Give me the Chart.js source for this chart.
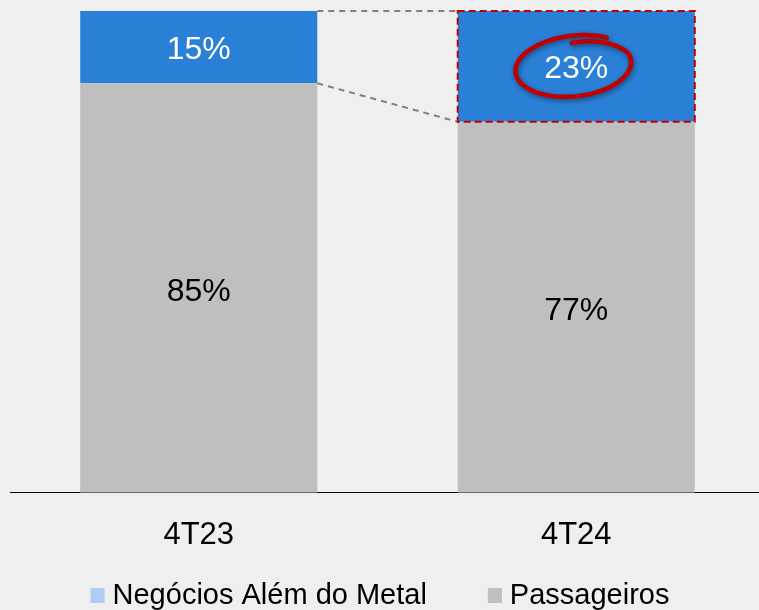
<!DOCTYPE html>
<html>
<head>
<meta charset="utf-8">
<script src="https://cdn.jsdelivr.net/npm/chart.js@4"></script>
<style>
  html, body { margin: 0; padding: 0; background: #efefef; overflow: hidden; }
  #wrap { position: relative; width: 759px; height: 610px; overflow: hidden; }
  #chart { position: absolute; left: 0; top: 0; }
</style>
</head>
<body>
<div id="wrap"><canvas id="chart" width="780" height="610"></canvas></div>
<script>
// -------------------------------
// Data
// -------------------------------
const categories = ["4T23", "4T24"];
const passageiros = [85, 77];
const negocios = [15, 23];
const seriesNames = ["Passageiros", "Negócios Além do Metal"];

const FONT = "'Liberation Sans', Arial, sans-serif";
const BLUE = "#2a7fd6";
const GRAY = "#bfbfbf";

// -------------------------------
// Plugins
// -------------------------------
const annotations = {
  id: "annotations",
  afterDatasetsDraw(chart) {
    const ctx = chart.ctx;
    const gray = chart.getDatasetMeta(0).data;
    const blue = chart.getDatasetMeta(1).data;

    // connector lines
    ctx.save();
    ctx.strokeStyle = "#808080";
    ctx.lineWidth = 2;
    ctx.setLineDash([6, 5]);
    const r0 = blue[0].x + blue[0].width / 2;
    const l1 = blue[1].x - blue[1].width / 2;
    ctx.beginPath();
    ctx.moveTo(r0, blue[0].y);
    ctx.lineTo(l1, blue[1].y);
    ctx.moveTo(r0, blue[0].base);
    ctx.lineTo(l1, blue[1].base);
    ctx.stroke();

    // red dashed box around highlighted segment
    ctx.strokeStyle = "#c00000";
    ctx.setLineDash([7, 4]);
    ctx.strokeRect(l1, blue[1].y, blue[1].width, blue[1].base - blue[1].y);
    ctx.restore();

    // value labels
    ctx.save();
    ctx.font = "32px " + FONT;
    ctx.textAlign = "center";
    ctx.textBaseline = "middle";
    gray.forEach((bar, i) => {
      ctx.fillStyle = "#000";
      ctx.fillText(passageiros[i] + "%", bar.x, (bar.y + bar.base) / 2 + 4);
    });
    blue.forEach((bar, i) => {
      ctx.fillStyle = "#fff";
      ctx.fillText(negocios[i] + "%", bar.x, (bar.y + bar.base) / 2 + 3);
    });
    ctx.restore();

    // hand drawn loop around 23%
    const cx = blue[1].x - 3;
    const cy = (blue[1].y + blue[1].base) / 2;
    const rx = 58, ry = 30, rot = -0.1;
    const t0 = -1.55, t1 = 2 * Math.PI - 0.9;
    ctx.save();
    ctx.strokeStyle = "#c00000";
    ctx.lineWidth = 4.5;
    ctx.lineCap = "round";
    ctx.lineJoin = "round";
    ctx.shadowColor = "rgba(0,0,0,0.45)";
    ctx.shadowBlur = 5;
    ctx.shadowOffsetX = 1;
    ctx.shadowOffsetY = 2;
    ctx.beginPath();
    for (let t = t0; t <= t1; t += 0.05) {
      let s = Math.min(1, 0.78 + (t - t0) / 1.3 * 0.22);
      if (t > t1 - 1.2) s += (t - (t1 - 1.2)) / 1.2 * 0.05;
      const ex = Math.cos(t) * rx * s, ey = Math.sin(t) * ry * s;
      const px = cx + ex * Math.cos(rot) - ey * Math.sin(rot);
      const py = cy + ex * Math.sin(rot) + ey * Math.cos(rot);
      if (t === t0) ctx.moveTo(px, py); else ctx.lineTo(px, py);
    }
    ctx.stroke();
    ctx.restore();
  },
  afterDraw(chart) {
    // legend
    const ctx = chart.ctx;
    const items = [
      { text: seriesNames[1], color: "#aecbf5" },
      { text: seriesNames[0], color: GRAY }
    ];
    ctx.save();
    ctx.font = "29px " + FONT;
    ctx.textBaseline = "middle";
    const box = 14, gap = 8, itemGap = 61;
    let total = 0;
    items.forEach((it, i) => {
      it.w = ctx.measureText(it.text).width;
      total += box + gap + it.w + (i ? itemGap : 0);
    });
    let x = 380 - total / 2;
    const y = 596;
    items.forEach(it => {
      ctx.fillStyle = it.color;
      ctx.fillRect(x, y - 8, box, box + 1);
      ctx.fillStyle = "#000";
      ctx.fillText(it.text, x + box + gap, y);
      x += box + gap + it.w + itemGap;
    });
    ctx.restore();
  }
};

// -------------------------------
// Chart
// -------------------------------
new Chart(document.getElementById("chart"), {
  type: "bar",
  data: {
    labels: categories,
    datasets: [
      { label: seriesNames[0], data: passageiros, backgroundColor: GRAY },
      { label: seriesNames[1], data: negocios, backgroundColor: BLUE }
    ]
  },
  options: {
    responsive: false,
    animation: false,
    layout: { padding: { left: 10, right: 15, top: 11, bottom: 32 } },
    datasets: { bar: { categoryPercentage: 1, barPercentage: 0.628 } },
    plugins: { legend: { display: false }, tooltip: { enabled: false } },
    scales: {
      x: {
        stacked: true,
        grid: { display: false, drawTicks: false },
        border: { display: true, color: "#000", width: 1 },
        ticks: { color: "#000", padding: 24, font: { family: FONT, size: 31 } }
      },
      y: {
        stacked: true,
        display: false,
        min: 0,
        max: 100
      }
    }
  },
  plugins: [annotations]
});
</script>
</body>
</html>
